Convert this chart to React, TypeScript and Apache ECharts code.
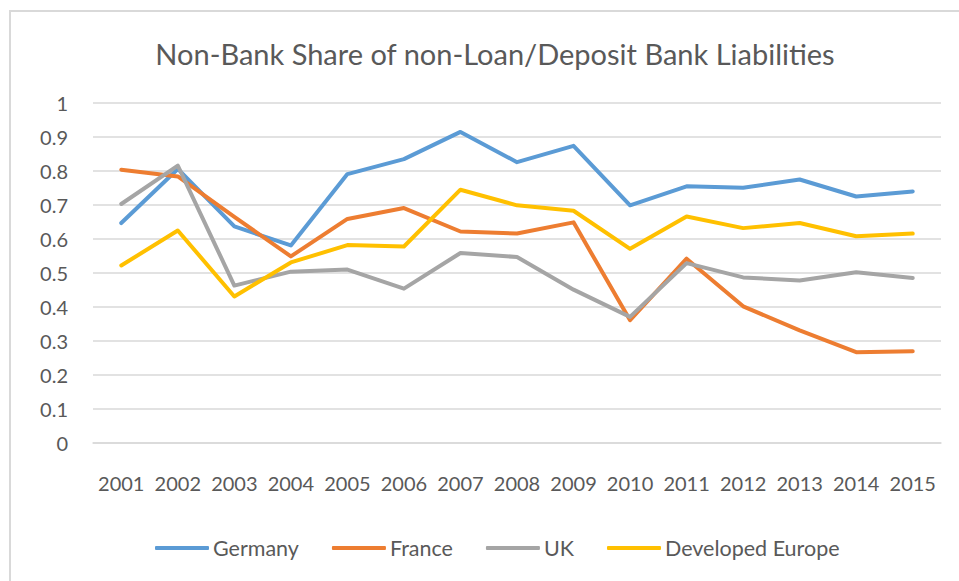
import React, { useEffect, useRef } from "react";
import * as echarts from "echarts";

const years = ["2001","2002","2003","2004","2005","2006","2007","2008","2009","2010","2011","2012","2013","2014","2015"];
const germany = [0.647,0.806,0.637,0.581,0.791,0.835,0.915,0.826,0.874,0.699,0.755,0.751,0.775,0.725,0.740];
const france = [0.804,0.784,0.665,0.549,0.659,0.691,0.622,0.616,0.649,0.361,0.542,0.402,0.331,0.267,0.270];
const uk = [0.703,0.816,0.463,0.504,0.510,0.454,0.559,0.547,0.451,0.371,0.529,0.487,0.478,0.502,0.485];
const devEurope = [0.522,0.625,0.431,0.531,0.582,0.578,0.745,0.699,0.683,0.571,0.666,0.632,0.647,0.608,0.616];
const seriesNames = ["Germany","France","UK","Developed Europe"];
const colors = ["#5B9BD5","#ED7D31","#A5A5A5","#FFC000"];

const FONT = "Lato";
const TEXT = "#595959";

export default function App() {
  const ref = useRef<HTMLDivElement>(null);
  useEffect(() => {
    if (!ref.current) return;
    const chart = echarts.init(ref.current, null, { renderer: "svg" });
    const data = [germany, france, uk, devEurope];
    chart.setOption({
      animation: false,
      backgroundColor: "#ffffff",
      title: {
        text: "Non-Bank Share of non-Loan/Deposit Bank Liabilities",
        left: 490,
        top: 34,
        textAlign: "center",
        textStyle: { fontFamily: FONT, fontSize: 29, fontWeight: "normal", color: TEXT },
      },
      graphic: [
        {
          type: "rect",
          shape: { x: 10, y: 11, width: 1000, height: 1000 },
          style: { fill: "none", stroke: "#D9D9D9", lineWidth: 2 },
          silent: true,
        },
      ],
      grid: { left: 93, right: 18, top: 103, bottom: 138, containLabel: false },
      xAxis: {
        type: "category",
        data: years,
        boundaryGap: true,
        axisLine: { show: true, lineStyle: { color: "#D9D9D9", width: 1.5 } },
        axisTick: { show: false },
        axisLabel: { fontFamily: FONT, fontSize: 20, color: TEXT, margin: 30, interval: 0 },
      },
      yAxis: {
        type: "value",
        min: 0,
        max: 1,
        interval: 0.1,
        axisLine: { show: false },
        axisTick: { show: false },
        splitLine: { lineStyle: { color: "#D9D9D9", width: 1.5 } },
        axisLabel: {
          fontFamily: FONT,
          fontSize: 20,
          color: TEXT,
          margin: 25,
          formatter: (v: number) => String(Math.round(v * 10) / 10),
        },
      },
      legend: {
        data: seriesNames,
        left: 150,
        top: 532,
        itemWidth: 54,
        itemHeight: 4,
        itemGap: 33,
        icon: "roundRect",
        textStyle: { fontFamily: FONT, fontSize: 21.5, color: TEXT, padding: [0, 0, 0, -1] },
      },
      series: seriesNames.map((name, i) => ({
        name,
        type: "line",
        data: data[i],
        symbol: "none",
        color: colors[i],
        lineStyle: { width: 4, color: colors[i], cap: "round", join: "round" },
        z: 2 + i,
      })),
    });
    return () => chart.dispose();
  }, []);
  return (
    <div
      ref={ref}
      style={{ position: "fixed", left: 0, top: 0, width: 959, height: 581 }}
    />
  );
}
